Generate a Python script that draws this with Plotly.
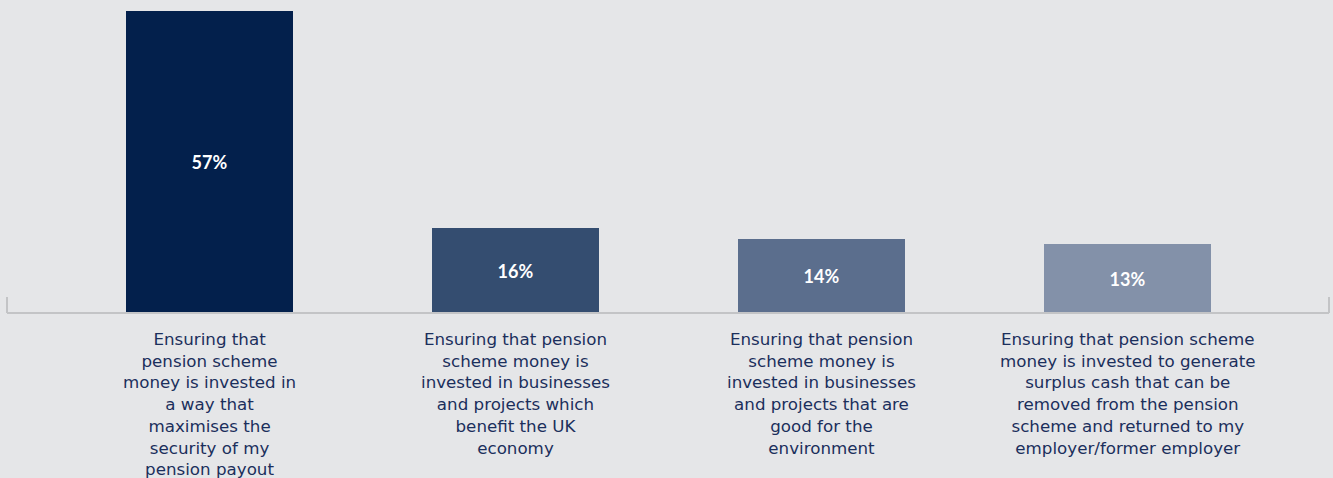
import plotly.graph_objects as go

categories = [
    "Ensuring that<br>pension scheme<br>money is invested in<br>a way that<br>maximises the<br>security of my<br>pension payout",
    "Ensuring that pension<br>scheme money is<br>invested in businesses<br>and projects which<br>benefit the UK<br>economy",
    "Ensuring that pension<br>scheme money is<br>invested in businesses<br>and projects that are<br>good for the<br>environment",
    "Ensuring that pension scheme<br>money is invested to generate<br>surplus cash that can be<br>removed from the pension<br>scheme and returned to my<br>employer/former employer",
]
values = [57, 16, 14, 13]
bar_colors = ["#03204c", "#344d70", "#5b6e8d", "#8391a9"]

BG = "#e5e6e8"
NAVY = "#1b2f5c"
AXIS = "#c3c4c6"

x_pos = list(range(len(values)))

fig = go.Figure()
fig.add_trace(go.Bar(
    x=x_pos,
    y=values,
    width=0.546,
    marker=dict(color=bar_colors, line=dict(width=0)),
    text=[f"{v}%" for v in values],
    textposition="inside",
    insidetextanchor="middle",
    textangle=0,
    constraintext="none",
    textfont=dict(family="Lato, sans-serif", size=18, color="white", weight="bold"),
    hoverinfo="skip",
))

# category labels below the baseline
for i, lab in enumerate(categories):
    fig.add_annotation(
        x=i, xref="x", y=-0.047, yref="paper",
        text=lab, showarrow=False, xanchor="center", yanchor="top",
        align="center",
        font=dict(family="DejaVu Sans, sans-serif", size=16.7, color=NAVY),
    )

# baseline with small end ticks
fig.add_shape(type="line", xref="paper", yref="paper", x0=0, x1=1, y0=0, y1=0,
              line=dict(color=AXIS, width=2))
for xp in (0, 1):
    fig.add_shape(type="line", xref="paper", yref="paper", x0=xp, x1=xp, y0=0, y1=0.053,
                  line=dict(color=AXIS, width=2))

fig.update_layout(
    width=1333, height=478,
    margin=dict(l=7, r=4, t=11, b=165),
    paper_bgcolor=BG, plot_bgcolor=BG,
    showlegend=False,
    bargap=0,
    xaxis=dict(range=[-0.662, 3.658], showticklabels=False, showgrid=False,
               zeroline=False, showline=False, ticks=""),
    yaxis=dict(range=[0, 57], showticklabels=False, showgrid=False,
               zeroline=False, showline=False, ticks=""),
)

fig.write_html("out.html")
